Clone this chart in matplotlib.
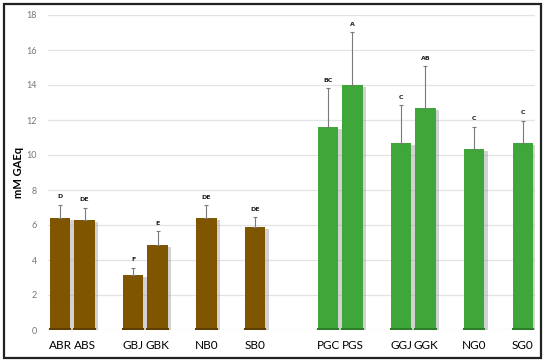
import numpy as np
import matplotlib
matplotlib.use('Agg')
import matplotlib.pyplot as plt
import matplotlib.patheffects as pe
from matplotlib.patches import Rectangle

# data
labels = ['ABR', 'ABS', 'GBJ', 'GBK', 'NB0', 'SB0',
          'PGC', 'PGS', 'GGJ', 'GGK', 'NG0', 'SG0']
slots = [0, 1, 3, 4, 6, 8, 11, 12, 14, 15, 17, 19]   # category slots (gaps = empty slots)
means = [6.42, 6.30, 3.13, 4.84, 6.42, 5.90,
         11.62, 14.02, 10.67, 12.67, 10.35, 10.71]
errs = [0.74, 0.69, 0.43, 0.80, 0.72, 0.54,
        2.21, 3.02, 2.19, 2.39, 1.27, 1.26]
letters = ['D', 'DE', 'F', 'E', 'DE', 'DE',
           'BC', 'A', 'C', 'AB', 'C', 'C']
group = ['b'] * 6 + ['g'] * 6

colors = {'b': '#7f5500', 'g': '#3fa63a'}
edges = {'b': '#5e3f00', 'g': '#2c7f28'}

plt.rcParams['font.family'] = ['Lato', 'DejaVu Sans']

fig = plt.figure(figsize=(5.5, 3.63), dpi=100)
ax = fig.add_axes([48 / 550, 1 - 330 / 363, (535 - 48) / 550, (330 - 15) / 363])

shadow = [pe.SimplePatchShadow(offset=(2.5, -1.5), shadow_rgbFace='#909090', alpha=0.4),
          pe.Normal()]
for x, m, e, lab, g in zip(slots, means, errs, letters, group):
    b = ax.bar(x, m, width=0.84, color=colors[g], zorder=3)
    b[0].set_path_effects(shadow)
    ax.plot([x - 0.42, x + 0.42], [0.05, 0.05], color=edges[g], lw=1.5, zorder=4)
    ax.errorbar(x, m, yerr=[[0], [e]], fmt='none', ecolor='#7a7a7a',
                elinewidth=0.8, capsize=1.5, capthick=0.8, zorder=4)
    ax.text(x, m + e + 0.3, lab, ha='center', va='bottom', fontsize=4.5,
            fontweight='bold', family='DejaVu Sans', color='#222222', zorder=5)

ax.set_xlim(-0.5, 19.5)
ax.set_ylim(0, 18)
ax.set_yticks(np.arange(0, 19, 2))
ax.set_xticks(slots)
ax.set_xticklabels(labels, fontsize=8.5)
ax.tick_params(axis='y', length=0, labelsize=6.5, labelcolor='#777777', pad=8)
ax.tick_params(axis='x', length=0, pad=7)
ax.grid(axis='y', color='#e3e3e3', lw=0.9, zorder=0)
for s in ax.spines.values():
    s.set_visible(False)
ax.set_ylabel('mM GAEq', fontsize=8, fontweight='bold', labelpad=2)

# outer frame
fig.patches.append(Rectangle((4 / 550, 1 - 358 / 363), 537 / 550, 354 / 363,
                             transform=fig.transFigure, fill=False,
                             edgecolor='#222222', lw=1.6))

fig.savefig('out.png', dpi=100)
